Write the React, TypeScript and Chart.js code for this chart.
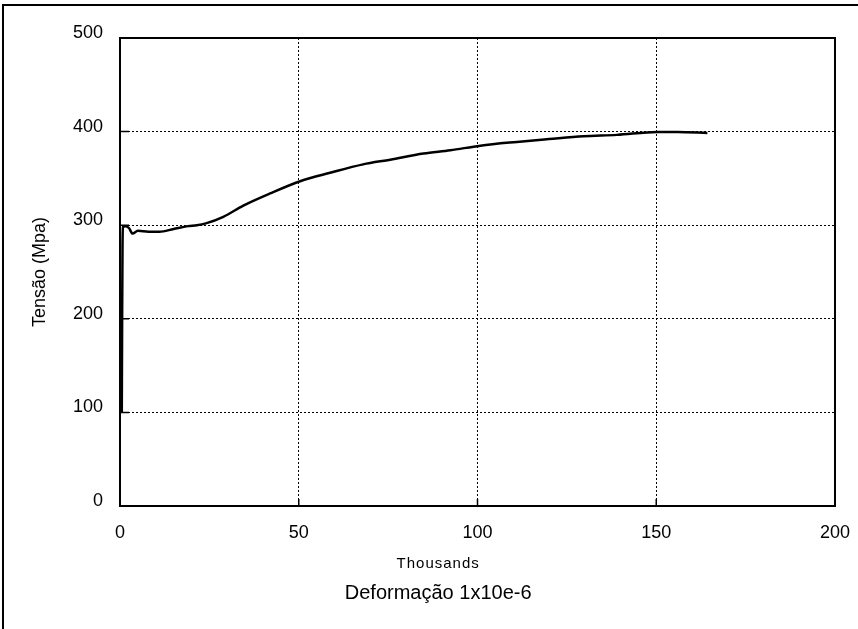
import React, { useEffect, useRef } from "react";
import { Chart, registerables } from "chart.js";

Chart.register(...registerables);

// Strain (thousands of 1e-6) and stress (MPa)
const strainK: number[] = [
  0.5, 0.6, 0.7, 0.8, 1.5, 2.5, 3.5, 5, 8, 11, 15, 19, 21.5, 24, 28.9, 34.5, 42,
  50.4, 58.8, 68, 75.6, 84.9, 92.4, 100.8, 111, 120, 129.6, 139, 150.3, 156, 164.3,
];
const stressMPa: number[] = [
  100, 200, 275, 298, 299, 297, 291, 294, 293, 293, 296, 299, 300, 302, 309, 321, 334,
  347, 356, 365, 370, 376.5, 380, 385, 389, 392, 395, 396.5, 399.6, 399.6, 398.5,
];

const xTicks: number[] = [0, 50, 100, 150, 200];
const yTicks: number[] = [0, 100, 200, 300, 400, 500];

const yTitle = "Tensão (Mpa)";
const xTitleTop = "Thousands";
const xTitleBottom = "Deformação 1x10e-6";

const FONT = "'Liberation Sans', Arial, sans-serif";

const framePlugin = {
  id: "framePlugin",
  afterDraw(chart: any) {
    const { ctx, chartArea, scales } = chart;
    const { left, right, top, bottom } = chartArea;
    ctx.save();
    // plot frame
    ctx.strokeStyle = "#000";
    ctx.lineWidth = 2;
    ctx.strokeRect(left, top, right - left, bottom - top);
    // inward tick marks
    ctx.lineWidth = 1.5;
    ctx.beginPath();
    yTicks.forEach((v) => {
      const y = scales.y.getPixelForValue(v);
      ctx.moveTo(left, y);
      ctx.lineTo(left + 9, y);
    });
    xTicks.forEach((v) => {
      const x = scales.x.getPixelForValue(v);
      ctx.moveTo(x, bottom);
      ctx.lineTo(x, bottom - 7);
    });
    ctx.stroke();
    // outer page frame (left & top)
    ctx.lineWidth = 2;
    ctx.beginPath();
    ctx.moveTo(3, chart.height);
    ctx.lineTo(3, 5);
    ctx.lineTo(chart.width, 5);
    ctx.stroke();
    // x titles
    const cx = left + (right - left) * 0.445;
    ctx.fillStyle = "#000";
    ctx.textAlign = "center";
    ctx.textBaseline = "middle";
    ctx.font = `15px ${FONT}`;
    (ctx as any).letterSpacing = "1px";
    ctx.fillText(xTitleTop, cx, 564);
    (ctx as any).letterSpacing = "0px";
    ctx.font = `20px ${FONT}`;
    ctx.fillText(xTitleBottom, cx, 593);
    ctx.restore();
  },
};

export default function App() {
  const ref = useRef<HTMLCanvasElement | null>(null);

  useEffect(() => {
    if (!ref.current) return;
    const data = strainK.map((x, i) => ({ x, y: stressMPa[i] }));
    const chart = new Chart(ref.current, {
      type: "line",
      data: {
        datasets: [
          {
            data,
            borderColor: "#000",
            borderWidth: 2.5,
            pointRadius: 0,
            cubicInterpolationMode: "monotone",
            fill: false,
          },
        ],
      },
      options: {
        animation: false,
        responsive: false,
        maintainAspectRatio: false,
        layout: { padding: { left: 0, top: 38, right: 23, bottom: 0 } },
        plugins: {
          legend: { display: false },
          tooltip: { enabled: false },
        },
        scales: {
          x: {
            type: "linear",
            min: 0,
            max: 200,
            afterBuildTicks: (s: any) => {
              s.ticks = xTicks.map((v) => ({ value: v }));
            },
            afterFit: (s: any) => {
              s.height = 123;
              s.paddingLeft = 0;
              s.paddingRight = 0;
            },
            grid: { color: "#000", lineWidth: 1, drawTicks: false },
            border: { display: false, dash: [2, 2] },
            ticks: {
              color: "#000",
              padding: 16,
              maxRotation: 0,
              font: { family: FONT, size: 18 },
            },
          },
          y: {
            type: "linear",
            min: 0,
            max: 500,
            afterBuildTicks: (s: any) => {
              s.ticks = yTicks.map((v) => ({ value: v }));
            },
            afterFit: (s: any) => {
              s.width = 120;
              s.paddingTop = 0;
              s.paddingBottom = 0;
            },
            grid: { color: "#000", lineWidth: 1, drawTicks: false },
            border: { display: false, dash: [2, 2] },
            ticks: {
              color: "#000",
              padding: 17,
              labelOffset: -5,
              font: { family: FONT, size: 18 },
            },
            title: {
              display: true,
              text: yTitle,
              color: "#000",
              padding: { top: 29, bottom: 0 },
              font: { family: FONT, size: 18 },
            },
          },
        },
      },
      plugins: [framePlugin],
    } as any);
    return () => chart.destroy();
  }, []);

  return (
    <div style={{ position: "fixed", left: 0, top: 0, width: 858, height: 629, background: "#fff" }}>
      <canvas ref={ref} width={858} height={629} style={{ display: "block", width: 858, height: 629 }} />
    </div>
  );
}
